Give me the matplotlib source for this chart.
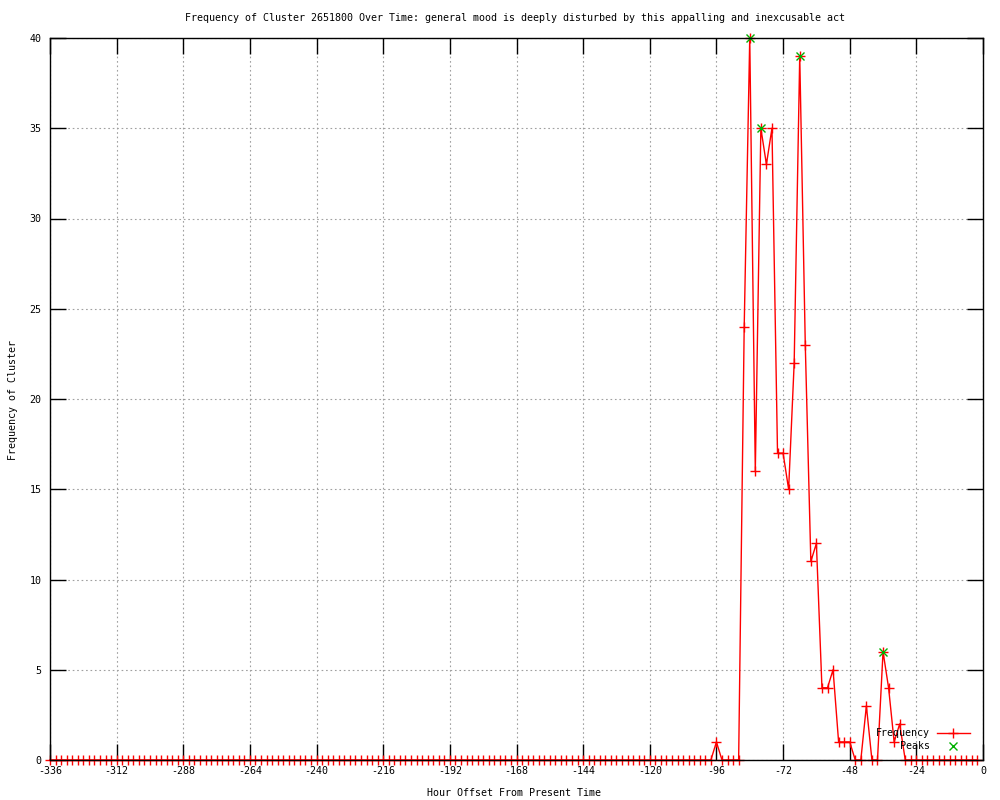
import numpy as np
import matplotlib
matplotlib.use("Agg")
import matplotlib.pyplot as plt

# hourly bins, every 2 hours back from present
hours = np.arange(-336, 0, 2)
freq = ([0] * 120
        + [1, 0, 0, 0, 0, 24, 40, 16, 35, 33, 35, 17, 17, 15, 22, 39, 23,
           11, 12, 4, 4, 5, 1, 1, 1, 0, 0, 3, 0, 0, 6, 4, 1, 2]
        + [0] * 14)

peak_hours = [-84, -80, -66, -36]
peak_vals = [40, 35, 39, 6]

xticks = np.arange(-336, 1, 24)
yticks = np.arange(0, 41, 5)

title = ("Frequency of Cluster 2651800 Over Time: general mood is deeply "
         "disturbed by this appalling and inexcusable act")

plt.rcParams["font.family"] = ["DejaVu Sans Mono"]
plt.rcParams["font.size"] = 7.2
plt.rcParams["axes.unicode_minus"] = False

fig = plt.figure(figsize=(10, 8), dpi=100)
ax = fig.add_axes([0.05, 0.05, 0.933, 0.9025])

ax.plot(hours, freq, color="red", lw=1, marker="+", ms=7, mew=1,
        clip_on=False, zorder=3)
ax.plot(peak_hours, peak_vals, ls="none", color="#00b000", marker="x",
        ms=6, mew=1, clip_on=False, zorder=4)

ax.set_xlim(-336, 0)
ax.set_ylim(0, 40)
ax.set_xticks(xticks)
ax.set_yticks(yticks)
ax.tick_params(direction="in", length=11.5, width=1, color="black",
               top=True, right=True, labelsize=7.2)
ax.tick_params(axis="x", pad=4)
ax.tick_params(axis="y", pad=6)
ax.grid(True, color="#a0a0a0", ls=(0, (1.5, 2.5)), lw=0.8)
for s in ax.spines.values():
    s.set_linewidth(1)
    s.set_zorder(5)

# gnuplot-style key, bottom right
def axpos(px, py):
    return (px - 50) / 933, (760 - py) / 722

x, y = axpos(930, 733)
ax.text(x, y, "Frequency", transform=ax.transAxes, ha="right", va="center")
x0, _ = axpos(937, 733)
x1, _ = axpos(970, 733)
xm, _ = axpos(953, 733)
ax.plot([x0, x1], [y, y], color="red", lw=1, transform=ax.transAxes, clip_on=False)
ax.plot([xm], [y], color="red", marker="+", ms=7, mew=1, transform=ax.transAxes, clip_on=False)
x, y = axpos(930, 746)
ax.text(x, y, "Peaks", transform=ax.transAxes, ha="right", va="center")
ax.plot([xm], [y], color="#00b000", marker="x", ms=6, mew=1, ls="none",
        transform=ax.transAxes, clip_on=False)

fig.text(0.515, 1 - 18 / 800, title, ha="center", va="center")
fig.text(0.514, 1 - 793 / 800, "Hour Offset From Present Time", ha="center", va="center")
fig.text(0.013, 0.5, "Frequency of Cluster", ha="center", va="center", rotation=90)

fig.savefig("out.png", dpi=100)
